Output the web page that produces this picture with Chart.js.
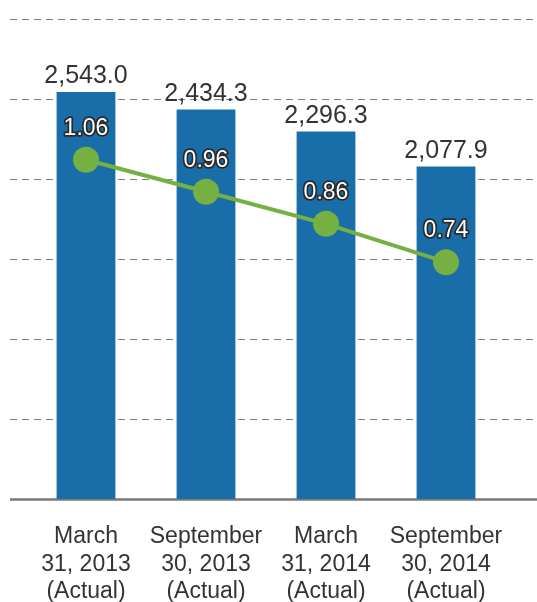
<!DOCTYPE html>
<html>
<head>
<meta charset="utf-8">
<script src="https://cdn.jsdelivr.net/npm/chart.js@4/dist/chart.umd.min.js"></script>
<style>
  html, body { margin: 0; padding: 0; background: #fff; }
  #wrap { width: 537px; height: 602px; position: relative; }
</style>
</head>
<body>
<div id="wrap"><canvas id="chart"></canvas></div>
<script>
const periods = [
    ["March", "31, 2013", "(Actual)"],
    ["September", "30, 2013", "(Actual)"],
    ["March", "31, 2014", "(Actual)"],
    ["September", "30, 2014", "(Actual)"]
];
const barValues = [2543.0, 2434.3, 2296.3, 2077.9];
const lineValues = [1.06, 0.96, 0.86, 0.74];

const textColor = "#333333";
const fontFamily = "'Liberation Sans', Arial, sans-serif";

// dashed grid lines run past the plot area, so draw them from the y scale
const gridPlugin = {
    id: "wideGrid",
    beforeDatasetsDraw(chart)
    {
        const ctx = chart.ctx;
        const y = chart.scales.y;
        ctx.save();
        y.ticks.forEach(function(t)
        {
            const py = Math.round(y.getPixelForValue(t.value)) + 0.5;
            ctx.beginPath();
            if (t.value === 0)
            {
                ctx.setLineDash([]);
                ctx.strokeStyle = "#7a7a7a";
                ctx.lineWidth = 2.5;
            }
            else
            {
                ctx.setLineDash([7, 5]);
                ctx.strokeStyle = "#808080";
                ctx.lineWidth = 1;
            }
            ctx.moveTo(10, py);
            ctx.lineTo(chart.width, py);
            ctx.stroke();
        });
        ctx.restore();
    }
};

const labelPlugin = {
    id: "valueLabels",
    afterDatasetsDraw(chart)
    {
        const ctx = chart.ctx;
        ctx.save();
        ctx.textAlign = "center";
        ctx.textBaseline = "alphabetic";

        const bars = chart.getDatasetMeta(1).data;
        ctx.font = "25px " + fontFamily;
        ctx.fillStyle = textColor;
        bars.forEach(function(b, i)
        {
            ctx.fillText(barValues[i].toLocaleString("en-US", { minimumFractionDigits: 1 }), b.x, b.y - 9);
        });

        const pts = chart.getDatasetMeta(0).data;
        ctx.font = "23px " + fontFamily;
        ctx.lineJoin = "round";
        pts.forEach(function(p, i)
        {
            const s = lineValues[i].toFixed(2);
            ctx.lineWidth = 3.5;
            ctx.strokeStyle = "#2a2a2a";
            ctx.strokeText(s, p.x, p.y - 25);
            ctx.fillStyle = "#ffffff";
            ctx.fillText(s, p.x, p.y - 25);
        });
        ctx.restore();
    }
};

const ctx = document.getElementById("chart").getContext("2d");

const myChart = new Chart(ctx,
{
    data:
    {
        labels: periods,
        datasets:
        [{
            type: "line",
            data: lineValues,
            yAxisID: "y2",
            borderColor: "#76b043",
            backgroundColor: "#76b043",
            borderWidth: 4,
            pointRadius: 13,
            pointHoverRadius: 13,
            pointBorderWidth: 0,
            tension: 0,
            order: 0
        },
        {
            type: "bar",
            data: barValues,
            yAxisID: "y",
            backgroundColor: "#196eaa",
            categoryPercentage: 1,
            barPercentage: 0.49,
            order: 1
        }]
    },
    options:
    {
        responsive: true,
        maintainAspectRatio: false,
        animation: false,
        layout: { padding: { left: 26, right: 31, top: 19, bottom: 0 } },
        plugins: { legend: { display: false }, tooltip: { enabled: false } },
        scales:
        {
            x:
            {
                grid: { display: false },
                border: { display: false },
                afterFit: function(scale) { scale.height = 103; },
                ticks:
                {
                    color: textColor,
                    font: { size: 23, family: fontFamily, lineHeight: 1.2 },
                    padding: 16,
                    maxRotation: 0,
                    autoSkip: false
                }
            },
            y:
            {
                display: false,
                min: 0,
                max: 3000,
                ticks: { stepSize: 500 }
            },
            y2:
            {
                display: false,
                min: 0,
                max: 1.5
            }
        }
    },
    plugins: [gridPlugin, labelPlugin]
});
</script>
</body>
</html>
